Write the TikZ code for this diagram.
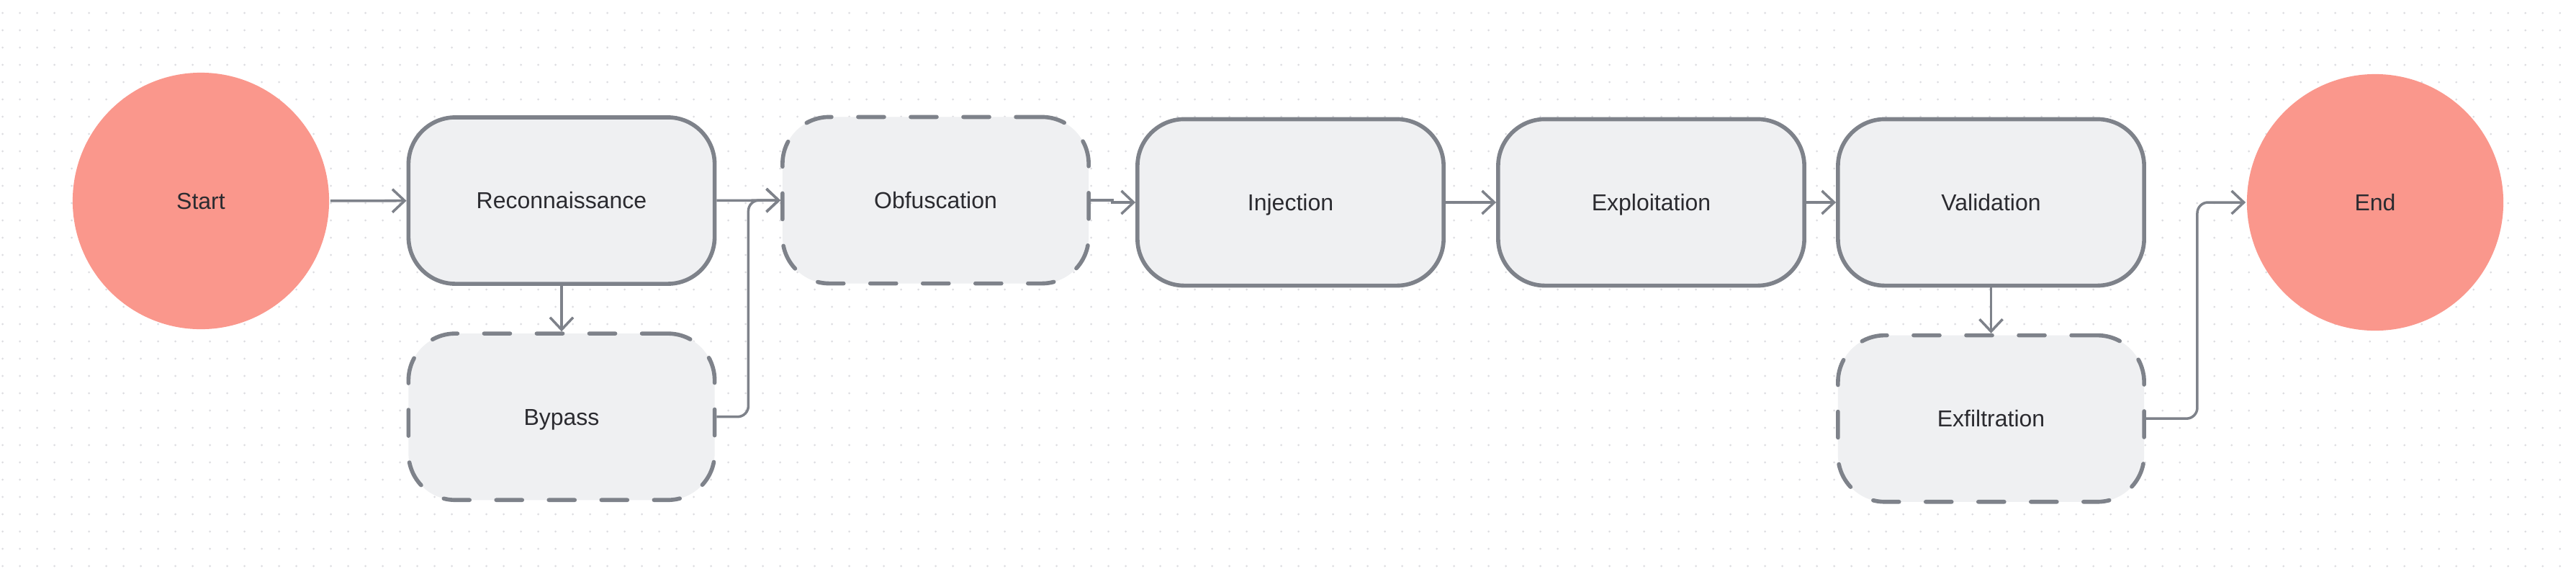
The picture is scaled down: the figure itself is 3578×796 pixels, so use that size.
\documentclass[tikz,border=0pt]{standalone}
\usepackage{fontspec}
\setmainfont{Liberation Sans}
\usetikzlibrary{arrows.meta,positioning}
\definecolor{boxfill}{HTML}{EFF0F2}
\definecolor{boxline}{HTML}{7E828A}
\definecolor{salmon}{HTML}{FA978C}
\definecolor{dotgray}{HTML}{DCDCE0}
\definecolor{txt}{HTML}{2B2B30}

\begin{document}
\begin{tikzpicture}[x=0.01cm,y=-0.01cm,->,>={Straight Barb[length=0.17cm,width=0.32cm]},
  line width=1pt,draw=boxline,node distance=3cm,
  main node/.style={rectangle,rounded corners=0.65cm,fill=boxfill,draw=boxline,line width=1.6pt,
    minimum width=4.25cm,minimum height=2.31cm,inner sep=0pt,text=txt,
    text height=6.5pt,text depth=0pt,font=\fontsize{9.1pt}{11pt}\selectfont},
  opt node/.style={main node,dash pattern=on 0.36cm off 0.37cm,line cap=round},
  term node/.style={circle,fill=salmon,minimum size=3.56cm,inner sep=0pt,text=txt,
    text height=6.5pt,text depth=0pt,font=\fontsize{9.1pt}{11pt}\selectfont}]

  \useasboundingbox[fill=white] (0,0) rectangle (3578,796);
  % dot grid
  \foreach \i in {0,...,148}
    \foreach \j in {0,...,32}
      \fill[dotgray] (3.7+24*\i,18+24*\j) circle (0.015cm);

  \node[term node] (s) at (279,279) {Start};
  \node[main node] (r) at (780,278.5) {Reconnaissance};
  \node[opt node] (b) [below of=r] {Bypass};
  \node[opt node] (o) at (1299.5,278) {Obfuscation};
  \node[main node] (i) at (1792.5,281) {Injection};
  \node[main node] (ex) at (2293.5,281) {Exploitation};
  \node[main node] (v) at (2765.5,281) {Validation};
  \node[opt node] (f) [below of=v] {Exfiltration};
  \node[term node] (e) at (3299,281) {End};

  \path
    (s) edge (r)
    (r) edge (o)
        edge (b)
    (i) edge (ex)
    (ex) edge (v)
    (v) edge (f)
    ;
  \draw (o.east) -- ++(30,0) |- (i.west);
  \draw[rounded corners=0.15cm] (b.east) -- ++(44,0) |- (o.west);
  \draw[rounded corners=0.15cm] (f.east) -- ++(71,0) |- (e.west);
\end{tikzpicture}
\end{document}
